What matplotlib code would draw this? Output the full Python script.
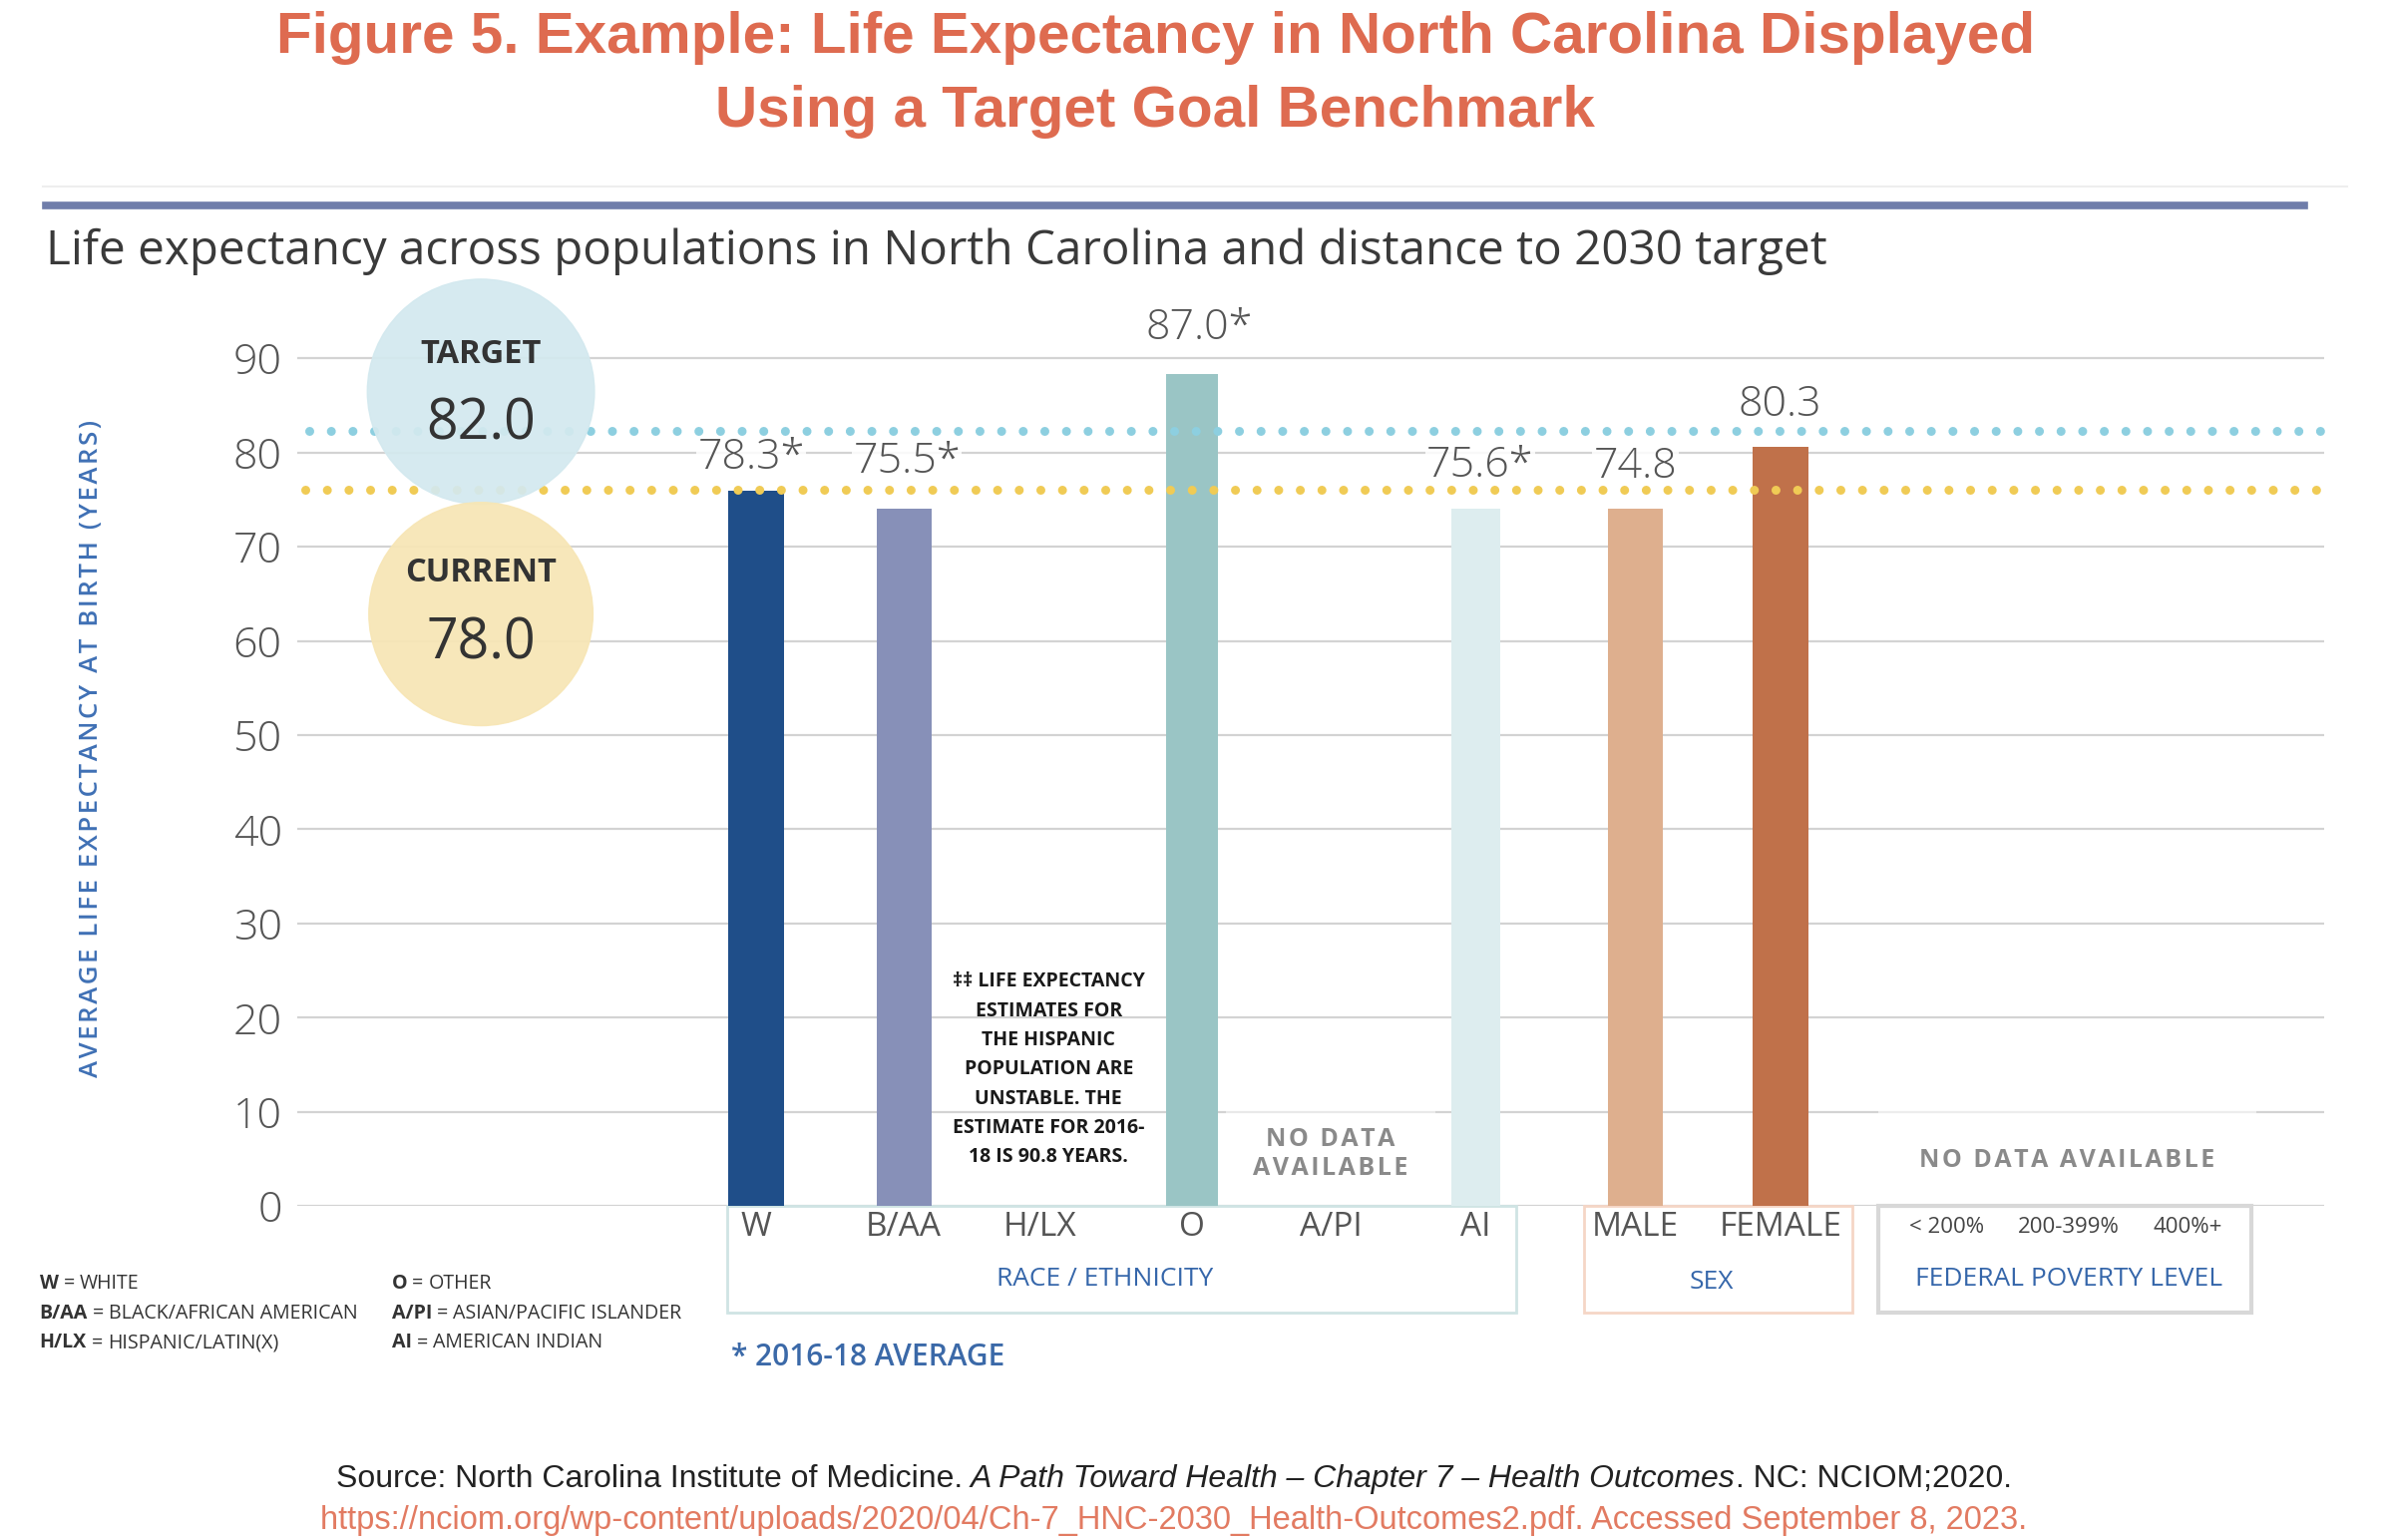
import matplotlib
matplotlib.use("Agg")
import matplotlib.pyplot as plt
from matplotlib.patches import Ellipse, Rectangle

# ---------------- data ----------------
categories = ['W', 'B/AA', 'H/LX', 'O', 'A/PI', 'AI', 'MALE', 'FEMALE',
              '< 200%', '200-399%', '400%+']
groups = ['RACE / ETHNICITY', 'SEX', 'FEDERAL POVERTY LEVEL']
# reported life expectancy (labels); None = no bar
reported = [78.3, 75.5, None, 87.0, None, 75.6, 74.8, 80.3, None, None, None]
avg_2016_18 = [True, True, False, True, False, True, False, False, False, False, False]
# bar heights as drawn in the source graphic
drawn = [75.9, 74.0, None, 88.3, None, 74.0, 74.0, 80.6, None, None, None]
target_value = 82.0
current_value = 78.0
target_drawn = 82.3
current_drawn = 76.0
abbr_col1 = [('W', 'WHITE'), ('B/AA', 'BLACK/AFRICAN AMERICAN'), ('H/LX', 'HISPANIC/LATIN(X)')]
abbr_col2 = [('O', 'OTHER'), ('A/PI', 'ASIAN/PACIFIC ISLANDER'), ('AI', 'AMERICAN INDIAN')]
hlx_note = ("\u2021\u2021 LIFE EXPECTANCY\nESTIMATES FOR\nTHE HISPANIC\nPOPULATION ARE\n"
            "UNSTABLE. THE\nESTIMATE FOR 2016-\n18 IS 90.8 YEARS.")
yticks = [0, 10, 20, 30, 40, 50, 60, 70, 80, 90]

# ---------------- layout / style ----------------
W, H = 1568.0, 1010.0          # reference layout grid
def fx(x): return x / W
def fy(y): return 1 - y / H

def spaced(s):
    """letter-spacing with hair spaces"""
    return '\u200a'.join(s)

xpos = [496, 593, 682, 782, 873, 968, 1073, 1168, 1277, 1357, 1435]
bar_w = [37, 36, 0, 34, 0, 32, 36, 37, 0, 0, 0]
bar_colors = ['#1F4E89', '#8790B8', None, '#9AC5C5', None, '#DDEDEF',
              '#DEAF8E', '#C0714A', None, None, None]
label_y = [79.5, 79.0, None, 93.2, None, 78.6, 78.5, 85.1]
label_dx = [-3, 2, 0, 5, 0, 3, 0, 0]
group_boxes = [(477, 995, '#CFE4E4', 2.0, 725, -7.8),
               (1039, 1215, '#F5D6C6', 2.0, 1123, -8.1),
               (1232, 1477, '#D8D8D8', 3.0, 1357, -7.8)]
box_bottom = -11.3
OPEN = 'Open Sans'
OPENF = ['Open Sans', 'DejaVu Sans']
ARIAL = 'Liberation Sans'
GREY = '#555555'
BLUE = '#3566AA'

fig = plt.figure(figsize=(23.96, 15.44), dpi=100)
fig.patch.set_facecolor('white')

# titles
fig.text(fx(758), fy(25), 'Figure 5. Example: Life Expectancy in North Carolina Displayed',
         ha='center', va='center', fontsize=42, weight='bold', color='#DE6B50', family=ARIAL)
fig.text(fx(758), fy(73), 'Using a Target Goal Benchmark',
         ha='center', va='center', fontsize=42, weight='bold', color='#DE6B50', family=ARIAL)
fig.add_artist(plt.Line2D([fx(28), fx(1540)], [fy(122), fy(122)], color='#EEEEEE', lw=1.5))
fig.add_artist(plt.Line2D([fx(30), fx(1512)], [fy(135), fy(135)], color='#6F7DAA', lw=5.5))
fig.text(fx(30), fy(165), 'Life expectancy across populations in North Carolina and distance to 2030 target',
         ha='left', va='center', fontsize=34.3, color='#3A3A3A', family=OPEN)
fig.text(fx(60), fy(491), spaced('AVERAGE LIFE EXPECTANCY AT BIRTH (YEARS)'), rotation=90,
         ha='center', va='center', fontsize=18.5, weight='semibold', color='#3F70B5', family=OPENF)

# axes: x data units follow the layout grid
ax = fig.add_axes([fx(195), fy(791), fx(1525) - fx(195), 100 * 6.178 / H])
ax.set_xlim(195, 1525)
ax.set_ylim(0, 100)
for s in ax.spines.values():
    s.set_visible(False)
ax.set_xticks([])
ax.set_yticks(yticks)
ax.set_yticklabels([str(v) for v in yticks], fontsize=31, color=GREY, family=OPEN, weight='light')
ax.tick_params(axis='y', length=0, pad=11)
ax.yaxis.grid(True, color='#D3D3D3', lw=1.6)
ax.set_axisbelow(True)
ax.patch.set_alpha(0)

# bars
for i, h in enumerate(drawn):
    if h is None:
        continue
    ax.bar(xpos[i], h, width=bar_w[i], color=bar_colors[i], zorder=2)

# faint white patches behind "no data" areas
ax.add_patch(Rectangle((804, 1.5), 138, 9.5, color='white', alpha=0.5, zorder=1.5, lw=0))
ax.add_patch(Rectangle((1232, 1.5), 248, 9.5, color='white', alpha=0.6, zorder=1.5, lw=0))

# value labels
for i, v in enumerate(reported[:8]):
    if v is None:
        continue
    txt = f'{v:.1f}' + ('*' if avg_2016_18[i] else '')
    ax.text(xpos[i] + label_dx[i], label_y[i], txt, ha='center', va='center',
            fontsize=31, color=GREY, family=OPEN, weight='light', zorder=2.5,
            bbox=dict(facecolor='white', edgecolor='none', pad=1, alpha=0.85))

# benchmark dotted lines
ax.plot([203, 1525], [target_drawn, target_drawn], color='#8DCFE0', lw=6.5,
        dashes=(0.001, 2.4), dash_capstyle='round', zorder=3, clip_on=False)
ax.plot([200, 1525], [current_drawn, current_drawn], color='#F0CB55', lw=6.5,
        dashes=(0.001, 2.4), dash_capstyle='round', zorder=3, clip_on=False)

# benchmark circles
ax.add_patch(Ellipse((315.5, 86.45), 149, 23.9, color='#D3E9EF', alpha=0.93, zorder=4, clip_on=False))
ax.add_patch(Ellipse((315.5, 62.85), 147, 23.7, color='#F7E6B5', alpha=0.93, zorder=4, clip_on=False))
ax.text(315.5, 90.4, 'TARGET', ha='center', va='center', fontsize=23.5, weight='bold',
        color='#333333', family=OPEN, zorder=5)
ax.text(315.5, 82.9, f'{target_value:.1f}', ha='center', va='center', fontsize=40,
        color='#333333', family=OPEN, zorder=5)
ax.text(315.5, 67.2, 'CURRENT', ha='center', va='center', fontsize=23.5, weight='bold',
        color='#333333', family=OPEN, zorder=5)
ax.text(315.5, 59.6, f'{current_value:.1f}', ha='center', va='center', fontsize=40,
        color='#333333', family=OPEN, zorder=5)

# H/LX note and no-data notes
ax.text(688, 14.5, hlx_note, ha='center', va='center', fontsize=14, weight='bold',
        color='#1A1A1A', family=OPEN, linespacing=1.62, zorder=3)
ax.text(873, 5.5, spaced('NO DATA') + '\n' + spaced('AVAILABLE'), ha='center', va='center',
        fontsize=18, weight='bold', color='#8A8A8A', family=OPENF, linespacing=1.2, zorder=3)
ax.text(1356, 4.86, spaced('NO DATA AVAILABLE'), ha='center', va='center', fontsize=18,
        weight='bold', color='#8A8A8A', family=OPENF, zorder=3)

# category labels
for i, c in enumerate(categories):
    small = i >= 8
    ax.text(xpos[i], -2.3, c, ha='center', va='center', fontsize=16 if small else 24,
            color=GREY if not small else '#444444', family=OPEN, clip_on=False)

# group boxes
for (x0, x1, ec, lw, lx, ly), g in zip(group_boxes, groups):
    ax.add_patch(Rectangle((x0, box_bottom), x1 - x0, -box_bottom, fill=False,
                           edgecolor=ec, lw=lw, clip_on=False, zorder=1))
    ax.text(lx, ly, g, ha='center', va='center', fontsize=19, color=BLUE, family=OPEN,
            clip_on=False)

fig.text(fx(480), fy(890), '* 2016-18 AVERAGE', ha='left', va='center', fontsize=21.5,
         weight='semibold', color='#3B69A8', family=OPEN)

# run-based text (mixed styles on one line)
renderer = fig.canvas.get_renderer()
def place_runs(runs, x, y, ha='left'):
    """runs: (text, kwargs, gap_px_before)"""
    texts = [fig.text(0, y, s, va='baseline', **kw) for s, kw, g in runs]
    widths = [t.get_window_extent(renderer).width / fig.bbox.width for t in texts]
    gaps = [g / fig.bbox.width for s, kw, g in runs]
    total = sum(widths) + sum(gaps)
    start = x - total / 2 if ha == 'center' else x
    for t, w, g in zip(texts, widths, gaps):
        start += g
        t.set_x(start)
        start += w

abbr_kw = dict(fontsize=14.1, family=OPEN, color='#333333')
for col_x, col in ((26, abbr_col1), (257, abbr_col2)):
    for j, (a, d) in enumerate(col):
        yy = fy(841 + 19.5 * j) - 0.004
        place_runs([(a, dict(weight='bold', **abbr_kw), 0),
                    ('=', dict(**abbr_kw), 5),
                    (d, dict(**abbr_kw), 5)], fx(col_x), yy)

src_kw = dict(fontsize=23, family=ARIAL, color='#222222')
place_runs([('Source: North Carolina Institute of Medicine.', dict(**src_kw), 0),
            ('A Path Toward Health \u2013 Chapter 7 \u2013 Health Outcomes', dict(style='italic', **src_kw), 8),
            ('. NC: NCIOM;2020.', dict(**src_kw), 0)], fx(770), fy(968) - 0.007, ha='center')
place_runs([('https://nciom.org/wp-content/uploads/2020/04/Ch-7_HNC-2030_Health-Outcomes2.pdf. '
             'Accessed September 8, 2023.', dict(fontsize=23.5, family=ARIAL, color='#E27B62'), 0)],
           fx(770), fy(996) - 0.007, ha='center')

fig.savefig('out.png', dpi=100, facecolor='white')
